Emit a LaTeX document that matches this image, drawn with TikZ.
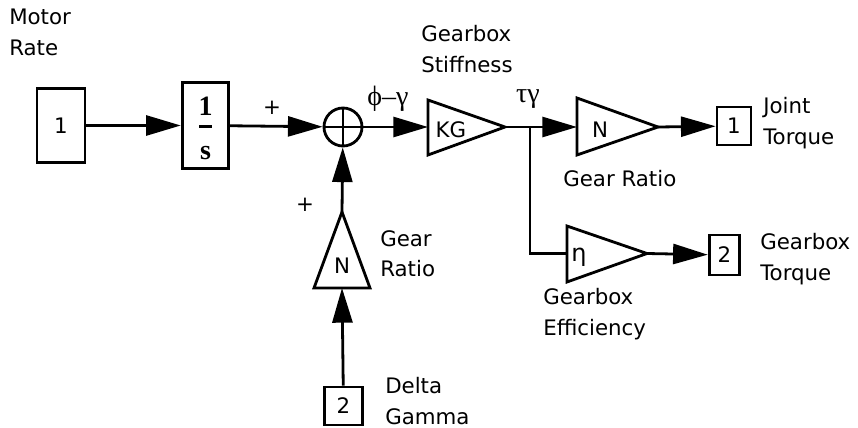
\documentclass[tikz,border=0pt]{standalone}
\usepackage{fontspec}
\setmainfont{DejaVu Sans}
\newfontfamily\serifface{Liberation Serif}
\usetikzlibrary{arrows.meta}

\tikzset{
  sig/.style={line width=2.1pt},
  arr/.style={sig, -{Triangle[length=26pt, width=15pt]}},
  blk/.style={draw, line width=2.1pt, inner sep=0pt},
  gain/.style={sig, line join=miter},
  lbl/.style={inner sep=0pt, anchor=north west, align=left},
  greek/.style={font=\serifface\fontsize{21}{21}\selectfont},
}

\begin{document}
\begin{tikzpicture}[x=0.75pt, y=-0.75pt, font=\fontsize{16}{23}\selectfont]
  \useasboundingbox (0,0) rectangle (858,428);

  % blocks on the main line
  \node[blk, minimum width=36pt, minimum height=56pt] (motor) at (61,125.5) {1};
  \node[blk, minimum width=35pt, minimum height=64pt] (integ) at (205.5,125.5) {};
  \node[font=\serifface\bfseries\fontsize{21}{21}\selectfont, inner sep=0pt] (integnum) at (205.5,106) {1};
  \fill (199,125) rectangle (212,128.5);
  \node[font=\serifface\bfseries\fontsize{21}{21}\selectfont, inner sep=0pt] (integden) at (205.5,153) {s};
  \node[draw, circle, line width=2.1pt, minimum size=28.5pt, inner sep=0pt] (sum) at (343,127) {};
  \draw[sig] (sum.north) -- (sum.south) (sum.west) -- (sum.east);

  % gearbox stiffness
  \draw[gain] (428,100) -- (505,127) -- (428,155) -- cycle;
  \coordinate (kgin) at (428,127);
  \coordinate (kgout) at (505,127);
  \node (kg) at (451,130) {KG};

  % gear ratio (forward)
  \draw[gain] (577,98) -- (658,127) -- (577,155) -- cycle;
  \coordinate (nin) at (577,127);
  \coordinate (nout) at (658,127);
  \node (ngain) at (600,130) {N};

  % gearbox efficiency
  \draw[gain] (567,226) -- (647,253.5) -- (567,282) -- cycle;
  \coordinate (etain) at (567,253.5);
  \coordinate (etaout) at (647,253.5);
  \node[font=\fontsize{18}{18}\selectfont] (eta) at (579,257) {η};

  % gear ratio (feedback)
  \draw[gain] (342,212) -- (370,288) -- (314,288) -- cycle;
  \coordinate (fbin) at (342,288);
  \coordinate (fbout) at (342,212);
  \node (fbgain) at (342,266) {N};

  % ports
  \node[blk, minimum width=25.5pt, minimum height=28.5pt] (joint) at (734,126) {1};
  \node[blk, minimum width=23pt, minimum height=30pt] (gbtorque) at (724.5,255) {2};
  \node[blk, minimum width=28pt, minimum height=28.5pt] (dgamma) at (343.5,406) {2};

  \coordinate (tap) at (530,127);

  % signal lines
  \draw[arr] (motor) -- (integ);
  \draw[arr] (integ) -- (sum);
  \draw[arr] (sum) -- (kgin);
  \draw[sig] (kgout) -- (tap);
  \draw[arr] (tap) -- (nin);
  \draw[arr] (nout) -- (joint);
  \draw[sig] (tap) |- (etain);
  \draw[arr] (etaout) -- (gbtorque);
  \draw[arr] (dgamma) -- (fbin);
  \draw[arr] (fbout) -- (sum);

  % labels
  \node[lbl] (motorlbl) at (9,9) {Motor\\Rate};
  \node[lbl] (stifflbl) at (421,25) {Gearbox\\Stiffness};
  \node[lbl] (jointlbl) at (763,97) {Joint\\Torque};
  \node[lbl] (ratiolbl) at (563,170) {Gear Ratio};
  \node[lbl] (gbtlbl) at (760,233) {Gearbox\\Torque};
  \node[lbl] (efflbl) at (543,288) {Gearbox\\Efficiency};
  \node[lbl] (fblbl) at (380,230) {Gear\\Ratio};
  \node[lbl] (dglbl) at (385,377) {Delta\\Gamma};
  \node (plusa) at (272,108) {+};
  \node (plusb) at (305,205) {+};
  \node[greek] (errlbl) at (388,99) {ϕ–γ};
  \node[greek] (taulbl) at (528,99) {τγ};
\end{tikzpicture}
\end{document}
